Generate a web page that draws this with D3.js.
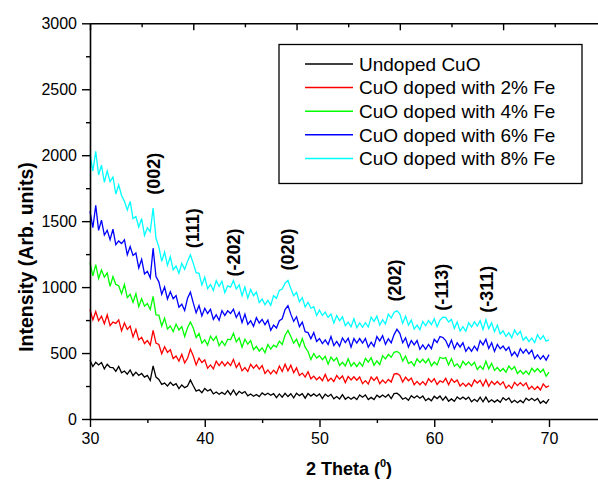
<!DOCTYPE html>
<html>
<head>
<meta charset="utf-8">
<script src="https://cdn.jsdelivr.net/npm/d3@7/dist/d3.min.js"></script>
<style>
  html, body { margin: 0; padding: 0; background: #fff; }
  svg { display: block; font-family: "Liberation Sans", Arial, sans-serif; }
</style>
</head>
<body>
<svg id="chart" width="598" height="482"></svg>
<script>
// ---------------- DATA ----------------
const thetaStart = 30, thetaStep = 0.25, thetaCount = 161;
const twoTheta = d3.range(thetaCount).map(i => thetaStart + i * thetaStep);

const undoped = [445,398,430,410,428,380,415,392,390,362,
398,350,364,340,372,328,355,330,345,318,
330,292,402,318,300,262,272,250,278,255,
268,230,258,238,250,295,252,212,222,200,
232,212,225,190,205,188,202,186,215,184,
220,182,210,194,208,176,190,172,186,170,
198,182,195,180,192,162,190,165,195,170,
192,160,196,177,192,158,193,174,190,173,
190,155,188,171,187,153,170,152,185,150,
167,150,166,148,182,165,182,147,164,147,
181,164,182,165,186,155,192,196,178,150,
161,142,177,159,176,158,174,139,156,138,
172,155,174,142,170,135,152,134,167,150,
166,149,166,131,149,132,165,130,166,129,
146,128,145,127,161,143,160,125,142,124,
141,123,158,140,157,139,156,120,137,119,
150];

const fe2 = [830,752,815,745,780,722,790,708,735,725,
752,668,728,680,705,622,680,600,620,572,
595,560,672,575,565,495,548,505,525,458,
478,440,490,425,460,530,478,410,462,428,
448,385,410,380,438,405,435,402,432,405,
452,390,425,365,390,360,415,385,410,378,
405,346,372,342,370,345,402,360,415,365,
408,350,388,330,348,318,358,305,325,298,
318,290,338,288,310,284,330,303,326,276,
323,296,320,294,318,268,291,265,318,292,
318,268,295,272,300,280,340,345,330,280,
318,290,310,260,285,260,283,258,305,280,
305,262,290,278,308,260,304,278,296,250,
272,248,271,248,296,273,294,250,298,248,
286,262,284,259,282,234,257,232,278,253,
276,251,274,226,248,223,246,220,266,240,
252];

const fe4 = [1185,1085,1170,1065,1130,1075,1108,1005,1080,1020,
1010,950,1020,920,945,885,950,852,912,855,
875,830,930,790,788,705,765,682,705,662,
720,675,700,625,692,735,690,618,648,575,
600,560,628,595,626,555,590,558,605,600,
650,585,615,545,605,568,595,526,550,514,
540,502,565,530,560,545,590,565,635,672,
625,575,605,548,610,545,512,450,496,462,
480,450,475,416,470,440,465,406,430,402,
457,400,428,398,430,400,460,432,465,407,
440,412,480,455,490,468,506,512,498,440,
478,420,435,403,456,428,453,426,456,402,
432,410,468,458,465,410,458,400,418,388,
438,410,433,405,430,376,402,378,438,380,
422,368,390,362,383,355,402,375,397,345,
368,341,364,337,385,358,382,355,377,325,
355];

const fe6 = [1575,1450,1620,1430,1508,1395,1430,1360,1440,1322,
1350,1330,1358,1245,1308,1240,1258,1145,1210,1100,
1120,1070,1295,1080,1040,945,1002,910,965,912,
935,848,870,822,915,962,880,805,860,782,
840,800,832,755,790,748,822,785,820,800,
832,770,810,732,795,718,745,703,768,728,
755,715,750,672,712,690,745,760,830,860,
795,740,775,700,735,662,655,608,655,588,
610,572,600,565,625,557,588,552,615,580,
612,545,610,576,610,576,610,544,582,550,
625,592,632,566,608,578,640,680,650,578,
615,545,595,562,595,528,562,528,565,533,
605,580,625,618,595,545,598,532,578,546,
578,513,545,514,552,520,594,562,605,535,
578,512,565,532,553,520,545,480,508,473,
533,500,528,494,523,458,486,453,480,446,
488];

const fe8 = [2010,1880,2030,1850,1925,1795,1880,1800,1835,1705,
1775,1695,1650,1585,1650,1520,1535,1455,1520,1392,
1450,1420,1600,1370,1305,1195,1265,1165,1230,1132,
1160,1105,1180,1135,1195,1245,1180,1110,1105,1015,
1075,988,1020,975,1050,1005,1044,958,1010,1000,
1050,985,1018,934,1000,917,982,935,964,882,
910,866,900,862,935,915,975,985,1030,1050,
990,935,960,888,920,850,885,840,852,785,
825,785,810,770,795,727,785,745,775,707,
735,699,760,692,728,695,730,697,772,740,
780,712,752,720,795,765,810,820,798,725,
780,712,750,682,712,677,740,707,747,715,
760,700,750,772,770,735,755,687,735,667,
700,665,730,697,737,705,745,678,752,685,
730,662,712,645,668,627,655,617,674,638,
664,597,622,587,614,579,639,603,632,590,
600];

const seriesNames = ["Undoped CuO", "CuO doped with 2% Fe", "CuO doped with 4% Fe",
                     "CuO doped with 6% Fe", "CuO doped with 8% Fe"];
const seriesColors = ["#000000", "#ff0000", "#00ff00", "#0000ff", "#00ffff"];
const seriesValues = [undoped, fe2, fe4, fe6, fe8];

const peakNames = ["(002)", "(111)", "(-202)", "(020)", "(202)", "(-113)", "(-311)"];
const peakTheta = [35.66, 39.05, 42.64, 47.34, 56.67, 60.76, 64.68];
const peakLabelIntensity = [1700, 1295, 1080, 1125, 890, 820, 805];

const xMajorTicks = [30, 40, 50, 60, 70];
const xMinorTicks = [35, 45, 55, 65, 75];
const yMajorTicks = [0, 500, 1000, 1500, 2000, 2500, 3000];
const yMinorTicks = [250, 750, 1250, 1750, 2250, 2750];
const topMajorTicks = [30, 39, 48, 57, 66, 75];
const topMinorTicks = [34.5, 43.5, 52.5, 61.5, 70.5, 79.5];

// ---------------- CHART ----------------
const svg = d3.select("#chart");
const plotLeft = 90, plotBottom = 419, plotTop = 23.3;
const pxPerUnit = 459 / 40;

const x = d3.scaleLinear().domain([30, 80]).range([plotLeft, plotLeft + 50 * pxPerUnit]);
const y = d3.scaleLinear().domain([0, 3000]).range([plotBottom, plotTop]);

// series
const line = d3.line().x((d, i) => x(twoTheta[i])).y(d => y(d));
const order = [0, 1, 2, 3, 4];
svg.append("g").selectAll("path").data(order).join("path")
  .attr("d", k => line(seriesValues[k]))
  .attr("fill", "none")
  .attr("stroke", k => seriesColors[k])
  .attr("stroke-width", 1.3)
  .attr("stroke-linejoin", "miter");

// axes
function styleAxis(g) {
  g.selectAll("path.domain").attr("stroke", "#000").attr("stroke-width", 1.6);
  g.selectAll(".tick line").attr("stroke", "#000").attr("stroke-width", 1.4);
  g.selectAll(".tick text").attr("fill", "#000").attr("font-size", 16)
    .attr("font-family", "'Liberation Sans', Arial, sans-serif");
}

// bottom axis
svg.append("g").attr("transform", `translate(0,${plotBottom})`)
  .call(d3.axisBottom(x).tickValues(xMinorTicks).tickSize(4).tickFormat(""))
  .call(g => g.select("path.domain").remove())
  .call(styleAxis);
svg.append("g").attr("transform", `translate(0,${plotBottom})`)
  .call(d3.axisBottom(x).tickValues(xMajorTicks).tickSize(8).tickSizeOuter(0).tickPadding(6).tickFormat(d3.format("d")))
  .call(styleAxis);

// top axis (ticks pointing inward)
svg.append("g").attr("transform", `translate(0,${plotTop})`)
  .call(d3.axisBottom(x).tickValues(topMinorTicks).tickSize(4).tickFormat(""))
  .call(g => g.select("path.domain").remove())
  .call(styleAxis);
svg.append("g").attr("transform", `translate(0,${plotTop})`)
  .call(d3.axisBottom(x).tickValues(topMajorTicks).tickSize(7).tickSizeOuter(0).tickFormat(""))
  .call(styleAxis);

// left axis
svg.append("g").attr("transform", `translate(${plotLeft},0)`)
  .call(d3.axisLeft(y).tickValues(yMinorTicks).tickSize(4).tickFormat(""))
  .call(g => g.select("path.domain").remove())
  .call(styleAxis);
svg.append("g").attr("transform", `translate(${plotLeft},0)`)
  .call(d3.axisLeft(y).tickValues(yMajorTicks).tickSize(8).tickSizeOuter(0).tickPadding(5).tickFormat(d3.format("d")))
  .call(styleAxis);

// axis titles
const xt = svg.append("text")
  .attr("x", 349).attr("y", 475)
  .attr("text-anchor", "middle")
  .attr("font-weight", "bold").attr("font-size", 18).attr("fill", "#000");
xt.append("tspan").text("2 Theta (");
xt.append("tspan").text("0").attr("font-size", 11).attr("dy", -8);
xt.append("tspan").text(")").attr("dy", 8);

svg.append("text")
  .attr("transform", "translate(32.5,257) rotate(-90)")
  .attr("text-anchor", "middle")
  .attr("font-weight", "bold").attr("font-size", 19.5).attr("fill", "#000")
  .text("Intensity (Arb. units)");

// peak labels
svg.append("g").selectAll("text").data(peakNames).join("text")
  .attr("transform", (d, i) => `translate(${x(peakTheta[i]) + 4.7},${y(peakLabelIntensity[i])}) rotate(-90)`)
  .attr("text-anchor", "start")
  .attr("font-weight", "bold").attr("font-size", 18).attr("fill", "#000")
  .text(d => d);

// legend
const lg = svg.append("g");
lg.append("rect").attr("x", 279).attr("y", 44.5).attr("width", 303).attr("height", 139)
  .attr("fill", "#fff").attr("stroke", "#000").attr("stroke-width", 1.3);
const rowY = d3.scaleLinear().domain([0, 4]).range([64, 158.4]);
const rows = lg.selectAll("g.row").data(order).join("g").attr("class", "row")
  .attr("transform", k => `translate(0,${rowY(k)})`);
rows.append("line").attr("x1", 305).attr("x2", 353).attr("y1", 0).attr("y2", 0)
  .attr("stroke", k => seriesColors[k]).attr("stroke-width", 1.5);
rows.append("text").attr("x", 359).attr("y", 6.8)
  .attr("font-size", 19).attr("fill", "#000")
  .text(k => seriesNames[k]);
</script>
</body>
</html>
